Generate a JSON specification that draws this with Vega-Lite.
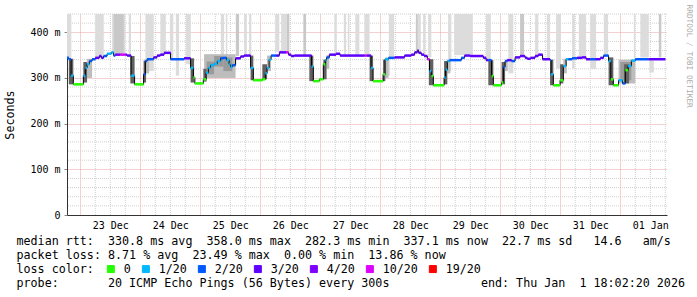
{
  "$schema": "https://vega.github.io/schema/vega-lite/v6.json",
  "width": 600,
  "height": 201,
  "autosize": "none",
  "padding": {"left": 67, "top": 14, "right": 30, "bottom": 82},
  "background": "white",
  "config": {"view": {"stroke": null}},
  "title": {"text": "RRDTOOL / TOBI OETIKER", "orient": "right", "anchor": "start", "font": "DejaVu Sans Mono", "fontSize": 7.8, "fontWeight": "normal", "color": "#aaaaaa", "offset": 1, "dx": -9},
  "datasets": {
    "gx": [
      {"g":"2025-12-23T06:00"},{"g":"2025-12-23T12:00"},{"g":"2025-12-23T18:00"},
      {"g":"2025-12-24T06:00"},{"g":"2025-12-24T12:00"},{"g":"2025-12-24T18:00"},
      {"g":"2025-12-25T06:00"},{"g":"2025-12-25T12:00"},{"g":"2025-12-25T18:00"},
      {"g":"2025-12-26T06:00"},{"g":"2025-12-26T12:00"},{"g":"2025-12-26T18:00"},
      {"g":"2025-12-27T06:00"},{"g":"2025-12-27T12:00"},{"g":"2025-12-27T18:00"},
      {"g":"2025-12-28T06:00"},{"g":"2025-12-28T12:00"},{"g":"2025-12-28T18:00"},
      {"g":"2025-12-29T06:00"},{"g":"2025-12-29T12:00"},{"g":"2025-12-29T18:00"},
      {"g":"2025-12-30T06:00"},{"g":"2025-12-30T12:00"},{"g":"2025-12-30T18:00"},
      {"g":"2025-12-31T06:00"},{"g":"2025-12-31T12:00"},{"g":"2025-12-31T18:00"},
      {"g":"2026-01-01T06:00"},{"g":"2026-01-01T12:00"},{"g":"2026-01-01T18:00"}
    ],
    "gy": [
      {"g":20},{"g":40},{"g":60},{"g":80},{"g":120},{"g":140},{"g":160},{"g":180},
      {"g":220},{"g":240},{"g":260},{"g":280},{"g":320},{"g":340},{"g":360},{"g":380},
      {"g":420},{"g":440}
    ],
    "med": [
      {"t":"2025-12-22T18:40","v":344,"c":"2/20"},
      {"t":"2025-12-22T19:24","v":341,"c":"2/20"},
      {"t":"2025-12-22T20:18","v":305,"c":"1/20"},
      {"t":"2025-12-22T21:12","v":286,"c":"0"},
      {"t":"2025-12-23T01:12","v":305,"c":"1/20"},
      {"t":"2025-12-23T02:00","v":322,"c":"1/20"},
      {"t":"2025-12-23T02:42","v":330,"c":"1/20"},
      {"t":"2025-12-23T03:36","v":337,"c":"2/20"},
      {"t":"2025-12-23T04:42","v":341,"c":"2/20"},
      {"t":"2025-12-23T06:00","v":344,"c":"3/20"},
      {"t":"2025-12-23T07:36","v":348,"c":"3/20"},
      {"t":"2025-12-23T08:24","v":344,"c":"3/20"},
      {"t":"2025-12-23T09:18","v":348,"c":"2/20"},
      {"t":"2025-12-23T10:42","v":353,"c":"1/20"},
      {"t":"2025-12-23T12:24","v":356,"c":"1/20"},
      {"t":"2025-12-23T13:18","v":349,"c":"2/20"},
      {"t":"2025-12-23T14:00","v":351,"c":"4/20"},
      {"t":"2025-12-23T16:00","v":351,"c":"10/20"},
      {"t":"2025-12-23T18:00","v":351,"c":"4/20"},
      {"t":"2025-12-23T18:42","v":349,"c":"3/20"},
      {"t":"2025-12-23T20:18","v":305,"c":"1/20"},
      {"t":"2025-12-23T21:42","v":286,"c":"0"},
      {"t":"2025-12-24T01:18","v":308,"c":"2/20"},
      {"t":"2025-12-24T02:00","v":337,"c":"2/20"},
      {"t":"2025-12-24T02:42","v":341,"c":"2/20"},
      {"t":"2025-12-24T05:18","v":345,"c":"3/20"},
      {"t":"2025-12-24T06:42","v":349,"c":"3/20"},
      {"t":"2025-12-24T08:00","v":351,"c":"3/20"},
      {"t":"2025-12-24T09:30","v":355,"c":"3/20"},
      {"t":"2025-12-24T12:06","v":341,"c":"2/20"},
      {"t":"2025-12-24T17:30","v":343,"c":"3/20"},
      {"t":"2025-12-24T20:06","v":322,"c":"1/20"},
      {"t":"2025-12-24T21:12","v":301,"c":"0"},
      {"t":"2025-12-24T21:48","v":288,"c":"0"},
      {"t":"2025-12-25T01:12","v":297,"c":"0"},
      {"t":"2025-12-25T02:18","v":311,"c":"1/20"},
      {"t":"2025-12-25T03:12","v":322,"c":"1/20"},
      {"t":"2025-12-25T04:06","v":328,"c":"1/20"},
      {"t":"2025-12-25T05:30","v":331,"c":"1/20"},
      {"t":"2025-12-25T06:48","v":337,"c":"1/20"},
      {"t":"2025-12-25T08:06","v":343,"c":"2/20"},
      {"t":"2025-12-25T09:12","v":344,"c":"2/20"},
      {"t":"2025-12-25T10:30","v":339,"c":"1/20"},
      {"t":"2025-12-25T11:30","v":330,"c":"1/20"},
      {"t":"2025-12-25T12:06","v":324,"c":"1/20"},
      {"t":"2025-12-25T12:48","v":328,"c":"2/20"},
      {"t":"2025-12-25T14:06","v":343,"c":"3/20"},
      {"t":"2025-12-25T16:06","v":347,"c":"3/20"},
      {"t":"2025-12-25T17:30","v":349,"c":"3/20"},
      {"t":"2025-12-25T20:06","v":322,"c":"1/20"},
      {"t":"2025-12-25T21:12","v":295,"c":"0"},
      {"t":"2025-12-26T00:48","v":297,"c":"0"},
      {"t":"2025-12-26T02:00","v":310,"c":"1/20"},
      {"t":"2025-12-26T02:42","v":322,"c":"1/20"},
      {"t":"2025-12-26T03:30","v":340,"c":"1/20"},
      {"t":"2025-12-26T04:18","v":349,"c":"2/20"},
      {"t":"2025-12-26T06:18","v":349,"c":"3/20"},
      {"t":"2025-12-26T07:36","v":356,"c":"3/20"},
      {"t":"2025-12-26T10:18","v":356,"c":"10/20"},
      {"t":"2025-12-26T11:18","v":351,"c":"3/20"},
      {"t":"2025-12-26T12:18","v":348,"c":"3/20"},
      {"t":"2025-12-26T13:36","v":349,"c":"3/20"},
      {"t":"2025-12-26T20:30","v":325,"c":"1/20"},
      {"t":"2025-12-26T21:12","v":293,"c":"0"},
      {"t":"2025-12-26T23:36","v":297,"c":"0"},
      {"t":"2025-12-27T01:12","v":330,"c":"0"},
      {"t":"2025-12-27T02:00","v":339,"c":"1/20"},
      {"t":"2025-12-27T02:30","v":345,"c":"2/20"},
      {"t":"2025-12-27T03:36","v":351,"c":"3/20"},
      {"t":"2025-12-27T06:18","v":353,"c":"3/20"},
      {"t":"2025-12-27T07:54","v":349,"c":"3/20"},
      {"t":"2025-12-27T17:48","v":349,"c":"10/20"},
      {"t":"2025-12-27T18:36","v":349,"c":"3/20"},
      {"t":"2025-12-27T20:18","v":322,"c":"1/20"},
      {"t":"2025-12-27T21:06","v":293,"c":"0"},
      {"t":"2025-12-28T01:06","v":308,"c":"0"},
      {"t":"2025-12-28T01:54","v":341,"c":"1/20"},
      {"t":"2025-12-28T03:18","v":344,"c":"2/20"},
      {"t":"2025-12-28T05:42","v":345,"c":"3/20"},
      {"t":"2025-12-28T09:42","v":349,"c":"3/20"},
      {"t":"2025-12-28T12:24","v":351,"c":"3/20"},
      {"t":"2025-12-28T13:42","v":356,"c":"3/20"},
      {"t":"2025-12-28T14:48","v":360,"c":"3/20"},
      {"t":"2025-12-28T15:18","v":355,"c":"3/20"},
      {"t":"2025-12-28T16:24","v":351,"c":"3/20"},
      {"t":"2025-12-28T17:30","v":348,"c":"3/20"},
      {"t":"2025-12-28T18:48","v":341,"c":"10/20"},
      {"t":"2025-12-28T19:42","v":315,"c":"1/20"},
      {"t":"2025-12-28T20:24","v":304,"c":"0"},
      {"t":"2025-12-28T21:12","v":284,"c":"0"},
      {"t":"2025-12-29T01:30","v":301,"c":"1/20"},
      {"t":"2025-12-29T02:06","v":318,"c":"1/20"},
      {"t":"2025-12-29T02:48","v":337,"c":"1/20"},
      {"t":"2025-12-29T03:42","v":339,"c":"2/20"},
      {"t":"2025-12-29T08:24","v":344,"c":"2/20"},
      {"t":"2025-12-29T09:42","v":349,"c":"3/20"},
      {"t":"2025-12-29T11:54","v":348,"c":"3/20"},
      {"t":"2025-12-29T17:12","v":344,"c":"3/20"},
      {"t":"2025-12-29T18:18","v":339,"c":"3/20"},
      {"t":"2025-12-29T19:12","v":339,"c":"2/20"},
      {"t":"2025-12-29T20:30","v":304,"c":"0"},
      {"t":"2025-12-29T21:12","v":284,"c":"0"},
      {"t":"2025-12-30T00:30","v":290,"c":"0"},
      {"t":"2025-12-30T01:12","v":324,"c":"2/20"},
      {"t":"2025-12-30T01:54","v":337,"c":"2/20"},
      {"t":"2025-12-30T02:48","v":339,"c":"3/20"},
      {"t":"2025-12-30T04:30","v":337,"c":"2/20"},
      {"t":"2025-12-30T05:54","v":345,"c":"3/20"},
      {"t":"2025-12-30T07:54","v":348,"c":"3/20"},
      {"t":"2025-12-30T09:54","v":344,"c":"3/20"},
      {"t":"2025-12-30T10:48","v":342,"c":"3/20"},
      {"t":"2025-12-30T12:06","v":344,"c":"3/20"},
      {"t":"2025-12-30T13:54","v":348,"c":"3/20"},
      {"t":"2025-12-30T15:12","v":351,"c":"3/20"},
      {"t":"2025-12-30T16:54","v":341,"c":"3/20"},
      {"t":"2025-12-30T19:54","v":339,"c":"2/20"},
      {"t":"2025-12-30T20:18","v":308,"c":"1/20"},
      {"t":"2025-12-30T21:12","v":284,"c":"0"},
      {"t":"2025-12-30T23:54","v":295,"c":"0"},
      {"t":"2025-12-31T01:12","v":326,"c":"1/20"},
      {"t":"2025-12-31T02:18","v":341,"c":"1/20"},
      {"t":"2025-12-31T03:12","v":341,"c":"2/20"},
      {"t":"2025-12-31T04:42","v":343,"c":"2/20"},
      {"t":"2025-12-31T06:42","v":344,"c":"3/20"},
      {"t":"2025-12-31T08:42","v":345,"c":"3/20"},
      {"t":"2025-12-31T10:18","v":341,"c":"3/20"},
      {"t":"2025-12-31T12:00","v":341,"c":"2/20"},
      {"t":"2025-12-31T14:00","v":341,"c":"3/20"},
      {"t":"2025-12-31T16:00","v":344,"c":"3/20"},
      {"t":"2025-12-31T17:18","v":349,"c":"2/20"},
      {"t":"2025-12-31T19:18","v":337,"c":"1/20"},
      {"t":"2025-12-31T20:12","v":297,"c":"0"},
      {"t":"2025-12-31T21:12","v":284,"c":"0"},
      {"t":"2025-12-31T23:18","v":295,"c":"1/20"},
      {"t":"2026-01-01T00:54","v":288,"c":"2/20"},
      {"t":"2026-01-01T02:00","v":317,"c":"0"},
      {"t":"2026-01-01T03:06","v":326,"c":"1/20"},
      {"t":"2026-01-01T04:24","v":338,"c":"1/20"},
      {"t":"2026-01-01T06:00","v":341,"c":"2/20"},
      {"t":"2026-01-01T11:18","v":341,"c":"3/20"},
      {"t":"2026-01-01T18:00","v":341,"c":"3/20"}
    ],
    "smoke": [
      {"t":"2025-12-22T18:40","e":"2025-12-22T20:24","lo":344,"hi":440,"k":"t1"},
      {"t":"2025-12-23T06:00","e":"2025-12-23T09:22","lo":345,"hi":440,"k":"t1"},
      {"t":"2025-12-23T12:42","e":"2025-12-23T18:00","lo":352,"hi":440,"k":"t1"},
      {"t":"2025-12-23T13:22","e":"2025-12-23T17:22","lo":352,"hi":440,"k":"t2"},
      {"t":"2025-12-23T19:22","e":"2025-12-23T20:17","lo":350,"hi":440,"k":"t1"},
      {"t":"2025-12-24T02:00","e":"2025-12-24T05:22","lo":315,"hi":440,"k":"t1"},
      {"t":"2025-12-24T08:00","e":"2025-12-24T10:12","lo":352,"hi":440,"k":"t1"},
      {"t":"2025-12-24T11:54","e":"2025-12-24T13:12","lo":340,"hi":440,"k":"t1"},
      {"t":"2025-12-24T14:12","e":"2025-12-24T15:30","lo":305,"hi":440,"k":"t1"},
      {"t":"2025-12-24T18:12","e":"2025-12-24T20:12","lo":330,"hi":440,"k":"t1"},
      {"t":"2025-12-25T08:12","e":"2025-12-25T09:30","lo":345,"hi":440,"k":"t1"},
      {"t":"2025-12-25T10:12","e":"2025-12-25T10:48","lo":345,"hi":440,"k":"t1"},
      {"t":"2025-12-25T14:12","e":"2025-12-25T15:30","lo":348,"hi":440,"k":"t2"},
      {"t":"2025-12-25T17:30","e":"2025-12-25T18:36","lo":350,"hi":440,"k":"t1"},
      {"t":"2025-12-25T19:30","e":"2025-12-25T20:24","lo":350,"hi":440,"k":"t1"},
      {"t":"2025-12-26T06:00","e":"2025-12-26T07:36","lo":357,"hi":440,"k":"t1"},
      {"t":"2025-12-26T08:18","e":"2025-12-26T10:36","lo":357,"hi":440,"k":"t1"},
      {"t":"2025-12-26T10:36","e":"2025-12-26T11:36","lo":357,"hi":440,"k":"t2"},
      {"t":"2025-12-26T17:12","e":"2025-12-26T18:18","lo":350,"hi":440,"k":"t2"},
      {"t":"2025-12-27T05:36","e":"2025-12-27T06:36","lo":353,"hi":440,"k":"t1"},
      {"t":"2025-12-27T09:24","e":"2025-12-27T10:18","lo":350,"hi":440,"k":"t1"},
      {"t":"2025-12-27T11:00","e":"2025-12-27T11:36","lo":350,"hi":440,"k":"t1"},
      {"t":"2025-12-27T14:00","e":"2025-12-27T15:36","lo":350,"hi":440,"k":"t1"},
      {"t":"2025-12-27T17:36","e":"2025-12-27T19:42","lo":350,"hi":440,"k":"t1"},
      {"t":"2025-12-28T02:24","e":"2025-12-28T03:48","lo":305,"hi":340,"k":"t1"},
      {"t":"2025-12-28T03:24","e":"2025-12-28T05:30","lo":345,"hi":440,"k":"t1"},
      {"t":"2025-12-28T14:12","e":"2025-12-28T15:00","lo":360,"hi":440,"k":"t2"},
      {"t":"2025-12-28T15:00","e":"2025-12-28T16:12","lo":356,"hi":440,"k":"t1"},
      {"t":"2025-12-28T17:06","e":"2025-12-28T18:00","lo":350,"hi":440,"k":"t1"},
      {"t":"2025-12-28T19:06","e":"2025-12-28T20:24","lo":345,"hi":440,"k":"t1"},
      {"t":"2025-12-29T03:06","e":"2025-12-29T04:24","lo":315,"hi":440,"k":"t1"},
      {"t":"2025-12-29T05:30","e":"2025-12-29T13:00","lo":350,"hi":440,"k":"t1"},
      {"t":"2025-12-29T18:18","e":"2025-12-29T20:12","lo":340,"hi":440,"k":"t1"},
      {"t":"2025-12-30T03:12","e":"2025-12-30T05:12","lo":310,"hi":440,"k":"t1"},
      {"t":"2025-12-30T07:54","e":"2025-12-30T09:30","lo":348,"hi":440,"k":"t2"},
      {"t":"2025-12-30T13:54","e":"2025-12-30T15:12","lo":350,"hi":440,"k":"t1"},
      {"t":"2025-12-30T18:36","e":"2025-12-30T19:54","lo":342,"hi":440,"k":"t1"},
      {"t":"2025-12-30T22:18","e":"2025-12-31T00:12","lo":320,"hi":440,"k":"t1"},
      {"t":"2025-12-31T04:42","e":"2025-12-31T05:48","lo":320,"hi":440,"k":"t1"},
      {"t":"2025-12-31T07:24","e":"2025-12-31T10:18","lo":346,"hi":440,"k":"t1"},
      {"t":"2025-12-31T12:00","e":"2025-12-31T14:18","lo":320,"hi":440,"k":"t1"},
      {"t":"2025-12-31T17:24","e":"2025-12-31T19:06","lo":351,"hi":440,"k":"t1"},
      {"t":"2026-01-01T05:24","e":"2026-01-01T06:00","lo":342,"hi":440,"k":"t1"},
      {"t":"2026-01-01T08:00","e":"2026-01-01T11:24","lo":345,"hi":440,"k":"t1"},
      {"t":"2026-01-01T11:36","e":"2026-01-01T13:24","lo":312,"hi":338,"k":"t1"},
      {"t":"2026-01-01T15:24","e":"2026-01-01T16:24","lo":345,"hi":440,"k":"t2"},
      {"t":"2025-12-23T02:42","e":"2025-12-23T04:42","lo":300,"hi":342,"k":"s1"},
      {"t":"2025-12-24T02:18","e":"2025-12-24T03:30","lo":310,"hi":342,"k":"s1"},
      {"t":"2025-12-25T01:30","e":"2025-12-25T14:06","lo":300,"hi":352,"k":"s1"},
      {"t":"2025-12-26T02:42","e":"2025-12-26T04:18","lo":315,"hi":349,"k":"s1"},
      {"t":"2025-12-27T02:30","e":"2025-12-27T03:36","lo":320,"hi":350,"k":"s1"},
      {"t":"2025-12-28T02:00","e":"2025-12-28T03:18","lo":300,"hi":345,"k":"s1"},
      {"t":"2025-12-29T02:48","e":"2025-12-29T04:00","lo":310,"hi":340,"k":"s1"},
      {"t":"2025-12-30T01:54","e":"2025-12-30T03:00","lo":315,"hi":340,"k":"s1"},
      {"t":"2025-12-31T01:12","e":"2025-12-31T02:36","lo":310,"hi":342,"k":"s1"},
      {"t":"2025-12-31T23:18","e":"2026-01-01T06:00","lo":288,"hi":340,"k":"s1"},
      {"t":"2025-12-25T02:30","e":"2025-12-25T05:30","lo":308,"hi":336,"k":"s3"},
      {"t":"2025-12-25T05:30","e":"2025-12-25T09:12","lo":325,"hi":348,"k":"s3"},
      {"t":"2025-12-25T09:12","e":"2025-12-25T12:48","lo":315,"hi":345,"k":"s3"},
      {"t":"2026-01-01T00:00","e":"2026-01-01T04:24","lo":295,"hi":335,"k":"s3"},
      {"t":"2025-12-22T19:24","e":"2025-12-22T21:12","lo":286,"hi":342,"k":"s2"},
      {"t":"2025-12-23T01:12","e":"2025-12-23T02:42","lo":290,"hi":335,"k":"s2"},
      {"t":"2025-12-23T20:00","e":"2025-12-23T21:42","lo":288,"hi":348,"k":"s2"},
      {"t":"2025-12-24T01:18","e":"2025-12-24T02:18","lo":290,"hi":338,"k":"s2"},
      {"t":"2025-12-24T20:06","e":"2025-12-24T21:30","lo":290,"hi":343,"k":"s2"},
      {"t":"2025-12-25T01:12","e":"2025-12-25T02:30","lo":292,"hi":320,"k":"s2"},
      {"t":"2025-12-25T20:06","e":"2025-12-25T21:12","lo":295,"hi":349,"k":"s2"},
      {"t":"2025-12-26T00:48","e":"2025-12-26T02:42","lo":297,"hi":330,"k":"s2"},
      {"t":"2025-12-26T19:36","e":"2025-12-26T21:12","lo":293,"hi":349,"k":"s2"},
      {"t":"2025-12-27T01:12","e":"2025-12-27T02:30","lo":297,"hi":340,"k":"s2"},
      {"t":"2025-12-27T19:42","e":"2025-12-27T21:06","lo":293,"hi":349,"k":"s2"},
      {"t":"2025-12-28T01:06","e":"2025-12-28T02:00","lo":293,"hi":340,"k":"s2"},
      {"t":"2025-12-28T19:24","e":"2025-12-28T21:12","lo":284,"hi":341,"k":"s2"},
      {"t":"2025-12-29T01:30","e":"2025-12-29T02:48","lo":286,"hi":337,"k":"s2"},
      {"t":"2025-12-29T19:12","e":"2025-12-29T21:12","lo":284,"hi":339,"k":"s2"},
      {"t":"2025-12-30T00:30","e":"2025-12-30T01:54","lo":286,"hi":335,"k":"s2"},
      {"t":"2025-12-30T19:54","e":"2025-12-30T21:12","lo":284,"hi":340,"k":"s2"},
      {"t":"2025-12-30T23:54","e":"2025-12-31T01:12","lo":288,"hi":330,"k":"s2"},
      {"t":"2025-12-31T19:18","e":"2025-12-31T21:12","lo":284,"hi":345,"k":"s2"},
      {"t":"2026-01-01T01:30","e":"2026-01-01T03:30","lo":288,"hi":330,"k":"s2"}
    ]
  },
  "layer": [
    {
      "data": {"name": "gx"},
      "mark": {"type": "rule", "color": "#d0d0d0", "strokeDash": [1, 1], "strokeWidth": 1},
      "encoding": {"x": {"field": "g", "type": "temporal"}}
    },
    {
      "data": {"name": "gy"},
      "mark": {"type": "rule", "color": "#d0d0d0", "strokeDash": [1, 1], "strokeWidth": 1},
      "encoding": {"y": {"field": "g", "type": "quantitative"}}
    },
    {
      "data": {"name": "smoke"},
      "mark": {"type": "rect"},
      "encoding": {
        "x": {
          "field": "t", "type": "temporal",
          "scale": {"domain": [{"year": 2025, "month": 12, "date": 22, "hours": 18, "minutes": 40}, {"year": 2026, "month": 1, "date": 1, "hours": 18, "minutes": 40}]},
          "axis": {
            "tickCount": {"interval": "day", "step": 1},
            "format": "%d %b", "labelOffset": 30,
            "labelOverlap": false, "labelFlush": false,
            "labelFont": "DejaVu Sans Mono", "labelFontSize": 10, "labelColor": "#000000", "labelPadding": 5,
            "ticks": false,
            "grid": true, "gridColor": "#eaa0a0", "gridDash": [1, 1],
            "domainColor": "#333333",
            "title": [
              "median\u00a0rtt:\u00a0\u00a0330.8\u00a0ms\u00a0avg\u00a0\u00a0358.0\u00a0ms\u00a0max\u00a0\u00a0282.3\u00a0ms\u00a0min\u00a0\u00a0337.1\u00a0ms\u00a0now\u00a0\u00a022.7\u00a0ms\u00a0sd\u00a0\u00a0\u00a014.6\u00a0\u00a0\u00a0am/s",
              "packet\u00a0loss:\u00a08.71\u00a0%\u00a0avg\u00a0\u00a023.49\u00a0%\u00a0max\u00a0\u00a00.00\u00a0%\u00a0min\u00a0\u00a013.86\u00a0%\u00a0now",
              "loss\u00a0color:",
              "probe:\u00a0\u00a0\u00a0\u00a0\u00a0\u00a0\u00a020\u00a0ICMP\u00a0Echo\u00a0Pings\u00a0(56\u00a0Bytes)\u00a0every\u00a0300s\u00a0\u00a0\u00a0\u00a0\u00a0\u00a0\u00a0\u00a0\u00a0\u00a0\u00a0\u00a0\u00a0end:\u00a0Thu\u00a0Jan\u00a0\u00a01\u00a018:02:20\u00a02026"
            ],
            "titleFont": "DejaVu Sans Mono", "titleFontSize": 11.7, "titleFontWeight": "normal", "titleColor": "#000000",
            "titleAlign": "left", "titleAnchor": "start", "titleBaseline": "top",
            "titleX": -51, "titleY": 20, "titleLineHeight": 14
          }
        },
        "x2": {"field": "e"},
        "y": {
          "field": "lo", "type": "quantitative",
          "scale": {"domain": [0, 440], "nice": false},
          "axis": {
            "values": [0, 100, 200, 300, 400],
            "labelExpr": "datum.value == 0 ? '0' : datum.value + ' m'",
            "labelFont": "DejaVu Sans Mono", "labelFontSize": 10, "labelColor": "#000000", "labelPadding": 4,
            "tickSize": 3,
            "grid": true, "gridColor": "#eaa0a0", "gridDash": [1, 1],
            "domainColor": "#333333",
            "title": "Seconds", "titlePadding": 14,
            "titleFont": "DejaVu Sans Mono", "titleFontSize": 11.7, "titleFontWeight": "normal", "titleColor": "#000000"
          }
        },
        "y2": {"field": "hi"},
        "fill": {
          "field": "k", "type": "nominal",
          "scale": {"domain": ["t1", "t2", "s1", "s3", "s2"], "range": ["#dcdcdc", "#c8c8c8", "#bdbdbd", "#9a9a9a", "#606060"]},
          "legend": null
        }
      }
    },
    {
      "data": {"name": "med"},
      "mark": {"type": "line", "interpolate": "step-after", "color": "#000000", "strokeWidth": 1},
      "encoding": {
        "x": {"field": "t", "type": "temporal"},
        "y": {"field": "v", "type": "quantitative"}
      }
    },
    {
      "data": {"name": "med"},
      "transform": [
        {"window": [{"op": "lead", "field": "t", "as": "tn"}]}
      ],
      "mark": {"type": "rule", "strokeWidth": 2.5},
      "encoding": {
        "x": {"field": "t", "type": "temporal"},
        "x2": {"field": "tn"},
        "y": {"field": "v", "type": "quantitative"},
        "color": {
          "field": "c", "type": "nominal",
          "scale": {"domain": ["0", "1/20", "2/20", "3/20", "4/20", "10/20", "19/20"], "range": ["#26ff00", "#00b8ff", "#0059ff", "#5e00ff", "#7e00ff", "#dd00ff", "#ff0000"]},
          "legend": {
            "orient": "none", "legendX": 38, "legendY": 249, "direction": "horizontal", "title": null,
            "symbolType": "square", "symbolSize": 49, "symbolStrokeWidth": 1,
            "labelOffset": 7, "columnPadding": 9,
            "labelFont": "DejaVu Sans Mono", "labelFontSize": 11.7, "labelColor": "#000000",
            "encode": {"symbols": {"update": {"fill": {"scale": "color", "field": "value"}, "stroke": {"value": "#000000"}, "fillOpacity": {"value": 1}, "strokeOpacity": {"value": 1}}}}
          }
        }
      }
    }
  ]
}
